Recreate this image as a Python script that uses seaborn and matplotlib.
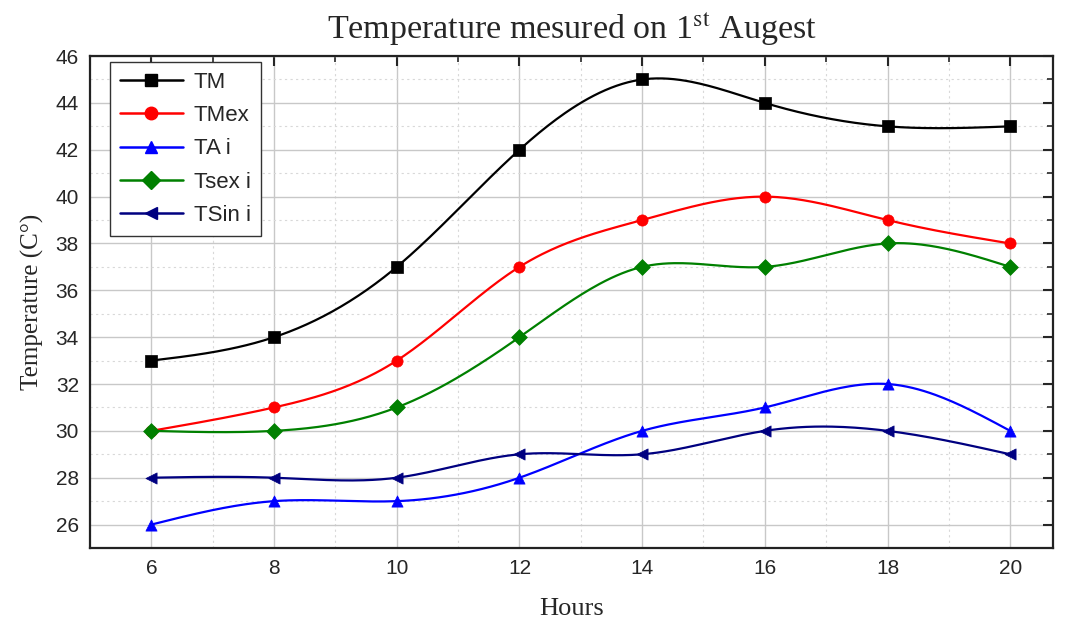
import matplotlib
matplotlib.use("Agg")
import matplotlib.pyplot as plt
from matplotlib.lines import Line2D
from matplotlib.ticker import MultipleLocator
import numpy as np
import pandas as pd
import seaborn as sns

hours = [6, 8, 10, 12, 14, 16, 18, 20]
tm = [33, 34, 37, 42, 45, 44, 43, 43]
tmex = [30, 31, 33, 37, 39, 40, 39, 38]
ta_i = [26, 27, 27, 28, 30, 31, 32, 30]
tsex_i = [30, 30, 31, 34, 37, 37, 38, 37]
tsin_i = [28, 28, 28, 29, 29, 30, 30, 29]

series_names = ["TM", "TMex", "TA i", "Tsex i", "TSin i"]
series_values = [tm, tmex, ta_i, tsex_i, tsin_i]
colors = ["black", "#ff0000", "#0000ff", "#008000", "#000080"]
markers = ["s", "o", "^", "D", "<"]


def natural_spline(x, y, n=300):
    # natural cubic spline, only for drawing the smooth connecting line
    x = np.asarray(x, float)
    y = np.asarray(y, float)
    k = len(x)
    h = np.diff(x)
    A = np.zeros((k, k))
    b = np.zeros(k)
    A[0, 0] = A[-1, -1] = 1
    for i in range(1, k - 1):
        A[i, i - 1] = h[i - 1]
        A[i, i] = 2 * (h[i - 1] + h[i])
        A[i, i + 1] = h[i]
        b[i] = 6 * ((y[i + 1] - y[i]) / h[i] - (y[i] - y[i - 1]) / h[i - 1])
    m = np.linalg.solve(A, b)
    xs = np.linspace(x[0], x[-1], n)
    idx = np.clip(np.searchsorted(x, xs) - 1, 0, k - 2)
    x0, x1 = x[idx], x[idx + 1]
    hh = x1 - x0
    t0, t1 = x1 - xs, xs - x0
    ys = (m[idx] * t0**3 / (6 * hh) + m[idx + 1] * t1**3 / (6 * hh)
          + (y[idx] / hh - m[idx] * hh / 6) * t0
          + (y[idx + 1] / hh - m[idx + 1] * hh / 6) * t1)
    return xs, ys


sns.set_style("white")
plt.rcParams["font.family"] = ["Liberation Sans", "DejaVu Sans"]
plt.rcParams["mathtext.fontset"] = "stix"

fig = plt.figure(figsize=(10.67, 6.23), dpi=100)
ax = fig.add_axes([0.0844, 0.1204, 0.9026, 0.7896])

handles = []
for name, vals, c, mk in zip(series_names, series_values, colors, markers):
    xs, ys = natural_spline(hours, vals)
    smooth = pd.DataFrame({"Hours": xs, "T": ys})
    pts = pd.DataFrame({"Hours": hours, "T": vals})
    sns.lineplot(data=smooth, x="Hours", y="T", color=c, linewidth=1.6, ax=ax,
                 legend=False, zorder=3)
    sns.scatterplot(data=pts, x="Hours", y="T", color=c, marker=mk, s=65,
                    edgecolor=c, linewidth=0.5, ax=ax, legend=False, zorder=4)
    handles.append(Line2D([], [], color=c, marker=mk, markersize=9,
                          linewidth=1.8, label=name))

ax.set_xlim(5.0, 20.7)
ax.set_ylim(25.0, 46)
ax.xaxis.set_major_locator(MultipleLocator(2))
ax.xaxis.set_minor_locator(MultipleLocator(1))
ax.yaxis.set_major_locator(MultipleLocator(2))
ax.yaxis.set_minor_locator(MultipleLocator(1))
ax.grid(which="major", color="#c8c8c8", linewidth=1.0)
ax.grid(which="minor", color="#d8d8d8", linewidth=0.8, linestyle=(0, (2, 3)))
ax.set_axisbelow(True)
ax.tick_params(which="major", direction="in", length=7, width=1.5,
               top=True, right=True, labelsize=15, pad=8)
ax.tick_params(which="minor", direction="in", length=4, width=1.2,
               top=True, right=True)
for sp in ax.spines.values():
    sp.set_linewidth(1.6)
    sp.set_color("#222222")

ax.set_xlabel("Hours", fontsize=19, family="Liberation Serif", labelpad=14)
ax.set_ylabel("Temperature (C°)", fontsize=18, family="Liberation Serif",
              labelpad=8)
ax.set_title(r"Temperature mesured on 1$^{\mathrm{st}}$ Augest", fontsize=24.5,
             family="Liberation Serif", pad=12)

leg = ax.legend(handles=handles, loc="upper left", fontsize=16, frameon=True,
                fancybox=False, edgecolor="#333333", framealpha=1,
                handlelength=2.8, handletextpad=0.5, borderpad=0.45,
                labelspacing=0.55, borderaxespad=0,
                bbox_to_anchor=(0.021, 0.988))
leg.get_frame().set_linewidth(1.0)

fig.savefig("out.png", dpi=100)
